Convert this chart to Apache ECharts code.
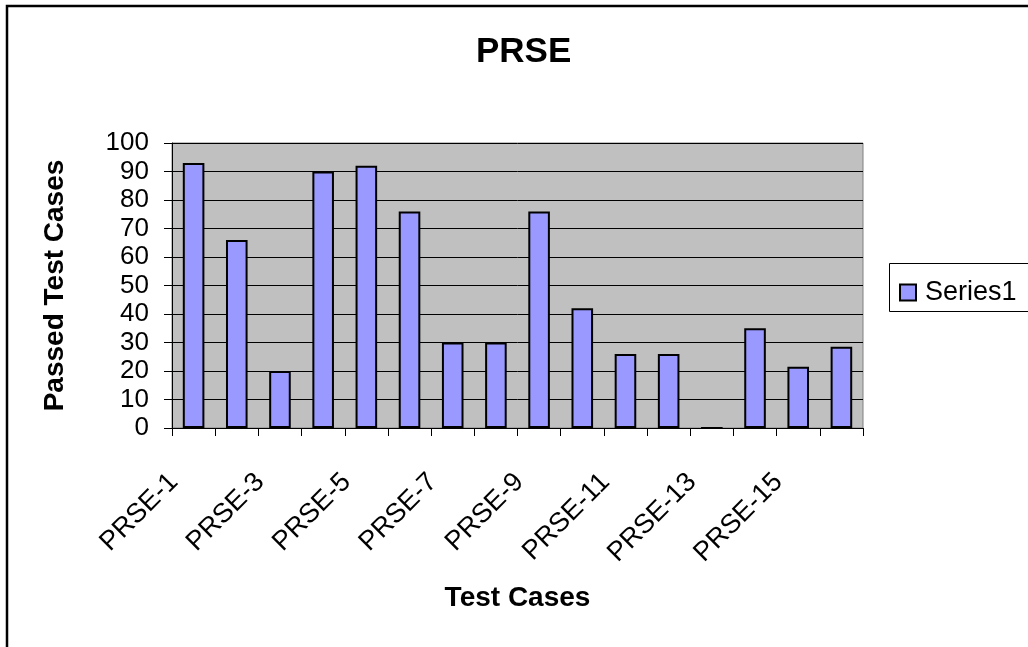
<!DOCTYPE html>
<html>
<head>
<meta charset="utf-8">
<script src="https://cdn.jsdelivr.net/npm/echarts@6/dist/echarts.min.js"></script>
<style>
  html, body { margin: 0; padding: 0; background: #fff; }
  #charts { width: 1028px; height: 647px; }
</style>
</head>
<body>
<div id="charts"></div>
<script>
// data
var categories = ['PRSE-1', 'PRSE-2', 'PRSE-3', 'PRSE-4', 'PRSE-5', 'PRSE-6', 'PRSE-7', 'PRSE-8',
    'PRSE-9', 'PRSE-10', 'PRSE-11', 'PRSE-12', 'PRSE-13', 'PRSE-14', 'PRSE-15', 'PRSE-16'];
var passed = [93, 66, 20, 90, 92, 76, 30, 30, 76, 42, 26, 26, 0, 35, 21.5, 28.5];
var seriesName = 'Series1';

var font = 'Liberation Sans, Arial, sans-serif';
var myChart = echarts.init(document.getElementById('charts'));
var option = {
    animation: false,
    backgroundColor: '#fff',
    title: {
        text: 'PRSE',
        left: 471,
        top: 30,
        textStyle: { fontFamily: font, fontSize: 35, fontWeight: 'bold', color: '#000' }
    },
    legend: {
        data: [seriesName],
        left: 894,
        top: 274,
        icon: 'rect',
        itemWidth: 16,
        itemHeight: 16,
        itemGap: 6,
        textStyle: { fontFamily: font, fontSize: 27, color: '#000', padding: [0, 0, 0, 4] }
    },
    grid: {
        left: 172,
        right: 165,
        top: 143,
        bottom: 219,
        show: true,
        backgroundColor: '#C0C0C0',
        borderColor: '#808080',
        borderWidth: 1
    },
    xAxis: {
        type: 'category',
        data: categories,
        name: 'Test Cases',
        nameLocation: 'middle',
        nameGap: 156,
        nameTextStyle: { fontFamily: font, fontSize: 28, fontWeight: 'bold', color: '#000' },
        axisLine: { lineStyle: { color: '#000', width: 1 } },
        axisTick: { show: true, length: 8, interval: 0, lineStyle: { color: '#000' } },
        axisLabel: {
            interval: 1,
            rotate: 45,
            margin: 30,
            padding: [0, 28, 0, 0],
            fontFamily: font,
            fontSize: 27,
            color: '#000'
        }
    },
    yAxis: {
        type: 'value',
        min: 0,
        max: 100,
        interval: 10,
        name: 'Passed Test Cases',
        nameLocation: 'middle',
        nameGap: 103,
        nameTextStyle: { fontFamily: font, fontSize: 28, fontWeight: 'bold', color: '#000' },
        axisLine: { show: true, lineStyle: { color: '#000', width: 1 } },
        axisTick: { show: true, length: 8, lineStyle: { color: '#000' } },
        axisLabel: { margin: 23, fontFamily: font, fontSize: 26, color: '#000' },
        splitLine: { show: true, lineStyle: { color: '#000', width: 1 } }
    },
    series: [{
        name: seriesName,
        type: 'bar',
        data: passed,
        barWidth: '50%',
        itemStyle: { color: '#9999FF', borderColor: '#000', borderWidth: 2 }
    }],
    graphic: [{
        type: 'rect',
        shape: { x: 7, y: 6, width: 1100, height: 700 },
        style: { fill: null, stroke: '#000', lineWidth: 2.5 },
        silent: true
    }, {
        type: 'rect',
        shape: { x: 889.5, y: 263.5, width: 200, height: 48 },
        style: { fill: '#fff', stroke: '#000', lineWidth: 1 },
        z: -1,
        silent: true
    }]
};
myChart.setOption(option);
</script>
</body>
</html>
